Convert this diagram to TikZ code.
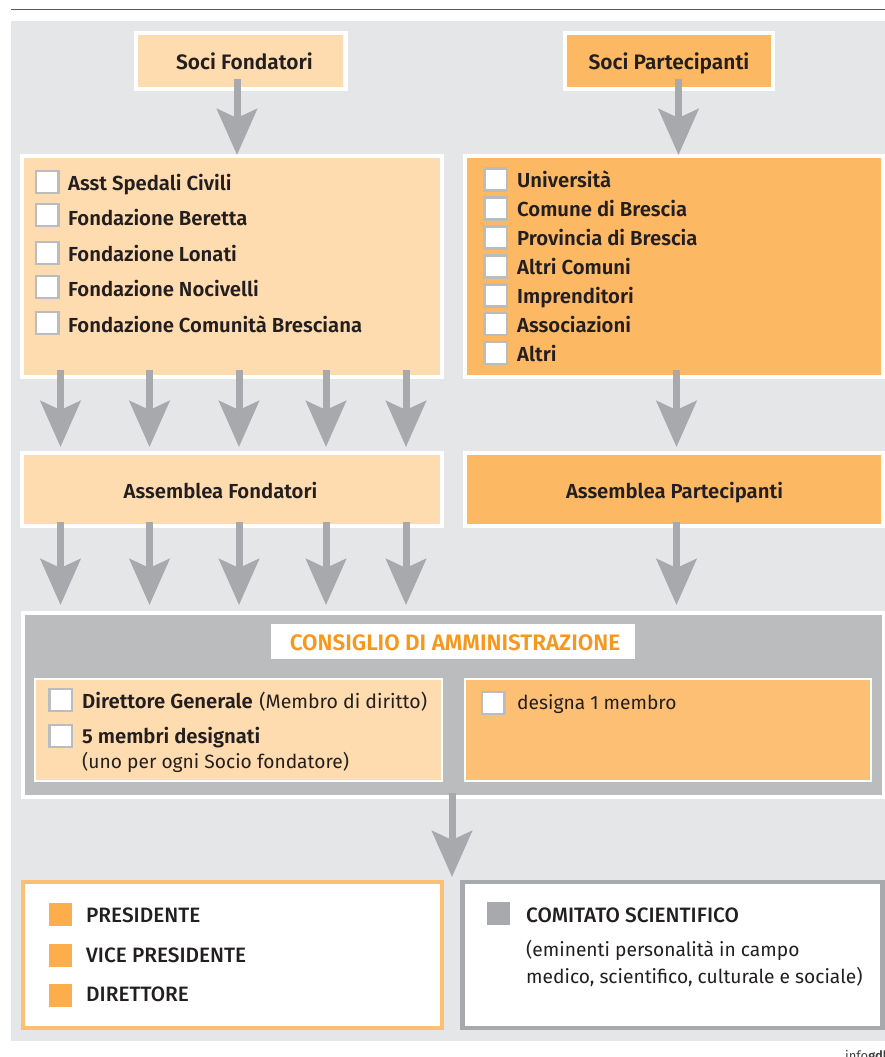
\documentclass[tikz,border=0pt]{standalone}
\usepackage{fontspec}
\setmainfont{Fira Sans}[BoldFont={Fira Sans SemiBold}]
\newfontfamily\medf{Fira Sans Medium}
\usetikzlibrary{arrows.meta}
\definecolor{panel}{HTML}{E5E6E8}
\definecolor{lightor}{HTML}{FFDBB0}
\definecolor{midor}{HTML}{FDB863}
\definecolor{cdagray}{HTML}{BBBCBE}
\definecolor{arrowgray}{HTML}{A7A9AC}
\definecolor{titleor}{HTML}{F7981D}
\definecolor{frameor}{HTML}{FDBF73}
\definecolor{squareor}{HTML}{FDAE4B}
\definecolor{ink}{HTML}{231F20}
\newcommand{\fs}{\fontsize{20.3}{24}\selectfont}
\newcommand{\fr}{\fontsize{19.2}{23}\selectfont}
\tikzset{
  x=1pt,y=-1pt,
  wbox/.style={draw=white,line width=4.3pt,minimum width=#1,inner sep=0pt,outer sep=0pt},
  chk/.style={draw=cdagray,fill=white,line width=2.5pt,minimum width=22.5pt,minimum height=22pt,inner sep=0pt,outer sep=0pt},
  lbl/.style={anchor=base west,inner sep=0pt,text=ink,font=\fs\bfseries},
  ctr/.style={anchor=base,inner sep=0pt,text=ink,font=\fs\bfseries},
  plain/.style={anchor=base west,inner sep=0pt,text=ink,font=\fr},
  caps/.style={anchor=base west,inner sep=0pt,text=ink,font=\fontsize{20.8}{24}\selectfont\medf},
  sq/.style={minimum width=23pt,minimum height=23pt,inner sep=0pt,outer sep=0pt},
  flow/.style={draw=arrowgray,line width=7pt,-{Stealth[length=46pt,width=40pt,inset=9pt,fill=arrowgray]}},
}
\begin{document}
\begin{tikzpicture}
\useasboundingbox (0,0) rectangle (885,1057);
\fill[panel] (11,21) rectangle (885,1041);
\draw[line width=1.1pt,black!65] (11,9.5) -- (885,9.5);

% top row
\node[wbox=209.5pt,fill=lightor,minimum height=56pt] (sf) at (240.7,61) {};
\node[wbox=208pt,fill=midor,minimum height=56pt] (sp) at (669,61) {};
% lists
\node[wbox=420pt,fill=lightor,minimum height=221pt] (lf) at (232.2,266.5) {};
\node[wbox=418.5pt,fill=midor,minimum height=221pt] (lp) at (674,266.5) {};
% assemblies
\node[wbox=420pt,fill=lightor,minimum height=73pt] (af) at (232.2,489.5) {};
\node[wbox=418.5pt,fill=midor,minimum height=73pt] (ap) at (674,489.5) {};
% board
\node[wbox=861pt,fill=cdagray,minimum height=184pt] (cda) at (453.5,705) {};
\node[fill=white,minimum width=364pt,minimum height=35pt,inner sep=0pt] (cdat) at (453,641.5) {};
\node[anchor=base,inner sep=0pt,text=titleor,font=\fontsize{22.4}{26}\selectfont\bfseries] (tcda) at (455,650) {CONSIGLIO DI AMMINISTRAZIONE};
\node[draw=white,line width=2pt,fill=lightor,minimum width=407pt,minimum height=102pt,inner sep=0pt] (cl) at (238.5,730) {};
\node[draw=white,line width=2pt,fill=midor!90!white,minimum width=406pt,minimum height=102pt,inner sep=0pt] (cr) at (668,730) {};
% bottom
\node[draw=frameor,line width=4.5pt,fill=white,minimum width=419pt,minimum height=146pt,inner sep=0pt] (pres) at (232.5,955) {};
\node[draw=arrowgray,line width=4.5pt,fill=white,minimum width=420pt,minimum height=146pt,inner sep=0pt] (com) at (672.5,955) {};

% labels of boxes
\node[ctr,font=\fontsize{20.9}{24}\selectfont\bfseries] (tsf) at (244.5,70) {Soci Fondatori};
\node[ctr,font=\fontsize{20.9}{24}\selectfont\bfseries] (tsp) at (669,70) {Soci Partecipanti};
\node[ctr] (taf) at (220.5,498) {Assemblea Fondatori};
\node[ctr] (tap) at (674.5,498) {Assemblea Partecipanti};

% left list
\foreach \n/\y in {a/182,b/215,c/253,d/287,e/323}{
  \node[chk] (cf\n) at (47,\y) {};
}
\node[lbl] (lfa) at (68,190) {Asst Spedali Civili};
\node[lbl] (lfb) at (68,225) {Fondazione Beretta};
\node[lbl] (lfc) at (68,261) {Fondazione Lonati};
\node[lbl] (lfd) at (68,296) {Fondazione Nocivelli};
\node[lbl] (lfe) at (68,332) {Fondazione Comunità Bresciana};

% right list
\foreach \n/\y in {a/179.7,b/208.6,c/237.5,d/266.4,e/295.3,f/324.2,g/353.1}{
  \node[chk] (cp\n) at (495.8,\y) {};
}
\node[lbl] (lpa) at (517,187) {Università};
\node[lbl] (lpb) at (517,216) {Comune di Brescia};
\node[lbl] (lpc) at (517,245) {Provincia di Brescia};
\node[lbl] (lpd) at (517,274) {Altri Comuni};
\node[lbl] (lpe) at (517,303) {Imprenditori};
\node[lbl] (lpf) at (517,332) {Associazioni};
\node[lbl] (lpg) at (517,361) {Altri};

% board contents
\node[chk] (cc1) at (60.5,700) {};
\node[chk] (cc2) at (60.5,736) {};
\node[chk] (cc3) at (493,703) {};
\node[lbl] (c1) at (82,708) {Direttore Generale\hspace{6.5pt}\mdseries\fontsize{19.5}{23}\selectfont(Membro di diritto)};
\node[lbl] (c2) at (82,743) {5 membri designati};
\node[plain] (c3) at (82,768) {(uno per ogni Socio fondatore)};
\node[plain] (c4) at (517,709) {designa 1 membro};

% bottom contents
\node[sq,fill=squareor] (s1) at (60.5,914.5) {};
\node[sq,fill=squareor] (s2) at (60.5,955.5) {};
\node[sq,fill=squareor] (s3) at (60.5,995.5) {};
\node[sq,fill=arrowgray] (s4) at (498.5,913.5) {};
\node[caps] (p1) at (86,922) {PRESIDENTE};
\node[caps] (p2) at (86,962) {VICE PRESIDENTE};
\node[caps] (p3) at (86,1001) {DIRETTORE};
\node[caps] (k1) at (526,922) {COMITATO SCIENTIFICO};
\node[plain] (k2) at (526,956) {(eminenti personalità in campo};
\node[plain] (k3) at (526,983) {medico, scientifico, culturale e sociale)};

% source credit
\begin{scope}
\clip (800,1041) rectangle (885,1057);
\node[anchor=base west,inner sep=0pt,text=black!75,font=\fontsize{13}{15}\selectfont] (src) at (845,1060) {info\textbf{gdb}};
\end{scope}

% arrows
\coordinate (a0s) at (237,79);   \coordinate (a0e) at (237,155);
\coordinate (b0s) at (678.5,79); \coordinate (b0e) at (678.5,155);
\foreach \i/\x in {1/60.5,2/149.5,3/239,4/326,5/406}{
  \coordinate (m\i s) at (\x,370); \coordinate (m\i e) at (\x,447);
  \coordinate (n\i s) at (\x,522); \coordinate (n\i e) at (\x,605);
}
\coordinate (m6s) at (676.5,370); \coordinate (m6e) at (676.5,447);
\coordinate (n6s) at (676.5,522); \coordinate (n6e) at (676.5,605);
\coordinate (zs) at (452,793);   \coordinate (ze) at (452,877);
\draw[flow] (a0s) -- (a0e);
\draw[flow] (b0s) -- (b0e);
\foreach \i in {1,...,6}{
  \draw[flow] (m\i s) -- (m\i e);
  \draw[flow] (n\i s) -- (n\i e);
}
\draw[flow] (zs) -- (ze);
\end{tikzpicture}
\end{document}
